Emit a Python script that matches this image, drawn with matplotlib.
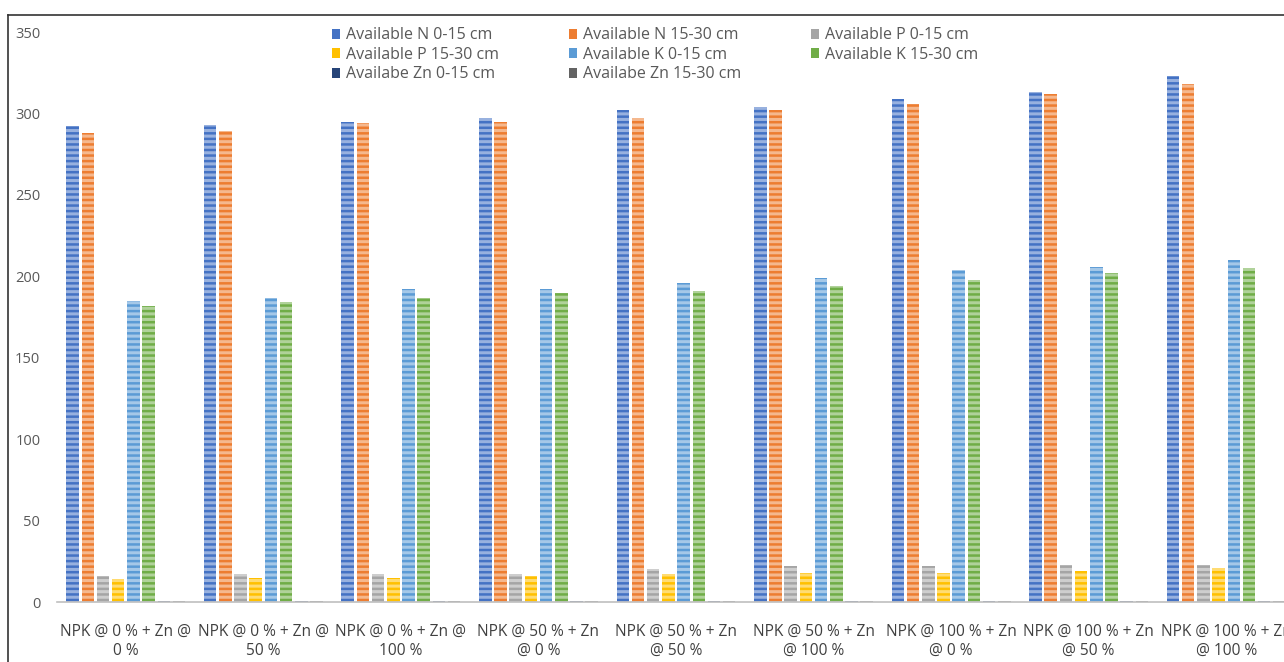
import matplotlib.pyplot as plt
import numpy as np
from matplotlib.colors import to_rgb
from matplotlib.lines import Line2D

plt.rcParams["font.family"] = ["Open Sans", "DejaVu Sans"]
plt.rcParams["hatch.linewidth"] = 2.2

categories = [
    "NPK @ 0 % + Zn @\n0 %",
    "NPK @ 0 % + Zn @\n50 %",
    "NPK @ 0 % + Zn @\n100 %",
    "NPK @ 50 % + Zn\n@ 0 %",
    "NPK @ 50 % + Zn\n@ 50 %",
    "NPK @ 50 % + Zn\n@ 100 %",
    "NPK @ 100 % + Zn\n@ 0 %",
    "NPK @ 100 % + Zn\n@ 50 %",
    "NPK @ 100 % + Zn\n@ 100 %",
]

n_0_15 = [292, 293, 295, 297, 302, 304, 309, 313, 323]
n_15_30 = [288, 289, 294, 294.5, 297.5, 302, 306, 312, 318]
p_0_15 = [16, 17, 17, 17, 20, 22, 22, 23, 23]
p_15_30 = [14, 15, 15, 16, 17, 18, 18, 19, 21]
k_0_15 = [185, 186.5, 192, 192, 196, 199, 204, 206, 210]
k_15_30 = [182, 184, 186.5, 190, 191, 194, 197.5, 202, 205]
zn_0_15 = [0.52, 0.55, 0.58, 0.6, 0.63, 0.66, 0.68, 0.71, 0.74]
zn_15_30 = [0.45, 0.48, 0.5, 0.52, 0.55, 0.57, 0.6, 0.62, 0.65]

series = [
    ("Available N 0-15 cm", n_0_15, "#4472C4"),
    ("Available N 15-30 cm", n_15_30, "#ED7D31"),
    ("Available P 0-15 cm", p_0_15, "#A5A5A5"),
    ("Available P 15-30 cm", p_15_30, "#FFC000"),
    ("Available K 0-15 cm", k_0_15, "#5B9BD5"),
    ("Available K 15-30 cm", k_15_30, "#70AD47"),
    ("Availabe Zn 0-15 cm", zn_0_15, "#264478"),
    ("Availabe Zn 15-30 cm", zn_15_30, "#636363"),
]


def lighten(c, amt=0.45):
    r, g, b = to_rgb(c)
    return (r + (1 - r) * amt, g + (1 - g) * amt, b + (1 - b) * amt)


fig = plt.figure(figsize=(12.84, 6.62), dpi=100)
W, H = 1284, 662
ax = fig.add_axes([57 / W, 60 / H, 1238 / W, 570 / H])

x = np.arange(len(categories))
pitch = 0.1105
width = 0.091
handles = []
for i, (name, vals, col) in enumerate(series):
    bars = ax.bar(x + (i - 3.5) * pitch, vals, width, color=col,
                  edgecolor=lighten(col), linewidth=0, hatch="---",
                  label=name, zorder=2)
    handles.append(bars)

ax.set_xlim(-0.5, len(categories) - 0.5)
ax.set_ylim(0, 350)
ax.set_yticks(range(0, 351, 50))
ax.set_xticks(x)
ax.set_xticklabels(categories, fontsize=11.2, color="#404040", linespacing=1.25)
ax.tick_params(axis="y", length=0, pad=12, labelsize=10.5, labelcolor="#595959")
ax.tick_params(axis="x", length=0, pad=16)
for s in ["top", "right", "left"]:
    ax.spines[s].set_visible(False)
ax.spines["bottom"].set_color("#BFBFBF")
ax.spines["bottom"].set_linewidth(1.2)
ax.spines["bottom"].set_zorder(3)

# legend filled row by row: three columns
order = [0, 3, 6, 1, 4, 7, 2, 5]
leg = ax.legend([handles[k] for k in order], [series[k][0] for k in order],
                ncol=3, loc="upper left", bbox_to_anchor=(326 / W, 1 - 21 / H),
                bbox_transform=fig.transFigure, frameon=False, fontsize=11.5,
                handlelength=0.5, handleheight=0.6, handletextpad=0.35,
                columnspacing=4.4, labelspacing=0.22, borderaxespad=0)
for t in leg.get_texts():
    t.set_color("#595959")
for p in leg.get_patches():
    p.set_hatch(None)

# outer frame along the top and left
fig.add_artist(Line2D([8 / W, 8 / W], [0, 1 - 15 / H], color="#333333", lw=1.2))
fig.add_artist(Line2D([8 / W, 1], [1 - 15 / H, 1 - 15 / H], color="#333333", lw=1.2))

fig.savefig("out.png", dpi=100)
